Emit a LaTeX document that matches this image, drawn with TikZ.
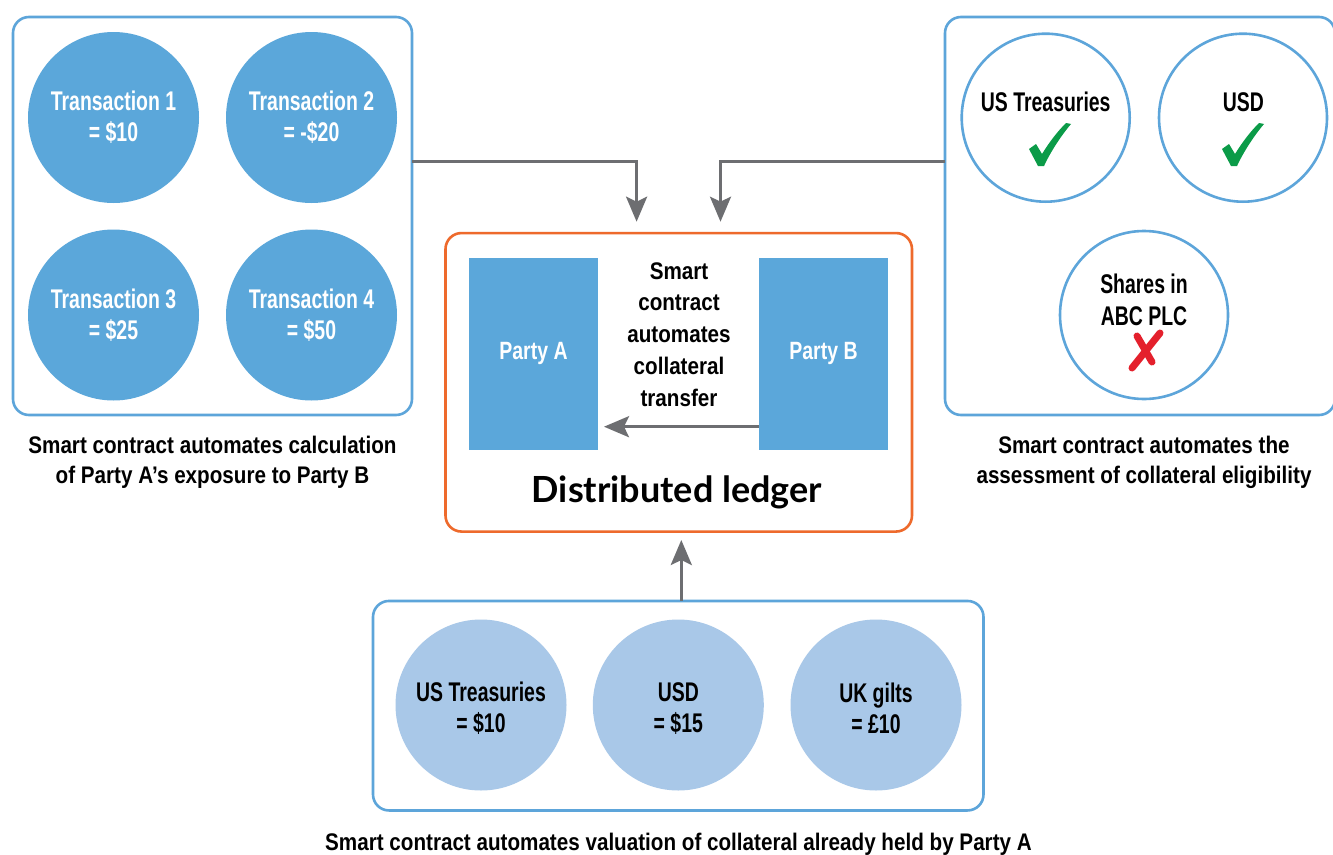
\documentclass[tikz,border=0pt]{standalone}
\usepackage{fontspec}
\usetikzlibrary{arrows.meta}
\newfontfamily\fcirc{Liberation Sans Bold}[FakeStretch=0.72]
\newfontfamily\fcap{Liberation Sans Bold}[FakeStretch=0.86]
\newfontfamily\fparty{Liberation Sans Bold}[FakeStretch=0.78]
\newfontfamily\fled{Lato}
\definecolor{dblue}{HTML}{5BA7DA}
\definecolor{lblue}{HTML}{A9C8E8}
\definecolor{bord}{HTML}{5DA5DA}
\definecolor{orng}{HTML}{EE6A2C}
\definecolor{agrey}{HTML}{6D6E71}
\definecolor{cgreen}{HTML}{0B9B48}
\definecolor{xred}{HTML}{E4202C}
\begin{document}
\begin{tikzpicture}[x=1pt,y=-1pt,
  panel/.style={draw=bord, line width=2.6pt, rounded corners=16pt, fill=white, inner sep=0pt, outer sep=0pt},
  tcirc/.style={circle, fill=dblue, minimum size=171pt, inner sep=0pt, text=white, align=center,
                font=\fcirc\fontsize{27}{31}\selectfont},
  ecirc/.style={circle, draw=bord, line width=2.6pt, fill=white, minimum size=168pt, inner sep=0pt},
  lcirc/.style={circle, fill=lblue, minimum size=171pt, inner sep=0pt},
  ctxt/.style={inner sep=0pt, align=center, text=black, font=\fcirc\fontsize{27}{31}\selectfont},
  captxt/.style={inner sep=0pt, anchor=base, text=black, font=\fcap\fontsize{24}{30}\selectfont},
  party/.style={rectangle, fill=dblue, minimum width=129pt, minimum height=192pt, inner sep=0pt,
                text=white, font=\fparty\fontsize{25}{30}\selectfont},
  arr/.style={draw=agrey, line width=3pt, -{Stealth[length=25pt,width=21pt,inset=5pt]}},
  chk/.pic={\fill[cgreen] (-1,26) -- (6,21) -- (12,31) .. controls (20,18) and (28,8) .. (36,0)
             -- (41,1) .. controls (30,14) and (20,30) .. (14,43) -- (8,43) -- cycle;}
]
\useasboundingbox (0,0) rectangle (1333,854);
\fill[white] (0,0) rectangle (1333,854);

% panels
\node[panel, minimum width=399pt, minimum height=398pt] (lbox) at (212.5,216) {};
\node[panel, minimum width=390pt, minimum height=398pt] (rbox) at (1140,216) {};
\node[panel, draw=orng, minimum width=466.5pt, minimum height=298.5pt] (obox) at (678.75,382.3) {};
\node[panel, minimum width=610.5pt, minimum height=209.5pt] (botbox) at (678.25,705.7) {};

% left: transactions
\node[tcirc] (t1) at (113.5,117.5) {Transaction 1\\= \$10};
\node[tcirc] (t2) at (311.5,117.5) {Transaction 2\\= -\$20};
\node[tcirc] (t3) at (113.5,315) {Transaction 3\\= \$25};
\node[tcirc] (t4) at (311.5,315) {Transaction 4\\= \$50};

% right: eligibility
\node[ecirc] (e1) at (1045.7,117.7) {};
\node[ecirc] (e2) at (1243,117.7) {};
\node[ecirc] (e3) at (1144,315) {};
\node[ctxt, anchor=base] (e1t) at (1045.7,111.7) {US Treasuries};
\node[ctxt, anchor=base] (e2t) at (1243.3,111.7) {USD};
\node[ctxt, anchor=base] (e3t) at (1144,293) {Shares in};
\node[ctxt, anchor=base] (e3u) at (1144,325) {ABC PLC};
\pic at (1030,123) {chk};
\pic at (1223,123) {chk};
\draw[xred, line width=7pt, line cap=round] (1137,336) -- (1152,362);
\draw[xred, line width=7pt, line cap=round] (1160,333) -- (1132,368);

% bottom: collateral held
\node[lcirc] (b1) at (481,705) {};
\node[lcirc] (b2) at (678.3,705) {};
\node[lcirc] (b3) at (876,705) {};
\node[ctxt] (b1t) at ([yshift=-3.5pt]b1.center) {US Treasuries\\= \$10};
\node[ctxt] (b2t) at ([yshift=-3.5pt]b2.center) {USD\\= \$15};
\node[ctxt] (b3t) at ([yshift=-3.5pt]b3.center) {UK gilts\\= £10};

% centre: distributed ledger
\node[party] (pA) at (533.5,353.5) {Party A};
\node[party] (pB) at (823.5,353.5) {Party B};
\node[inner sep=0pt, align=center, font=\fcap\fontsize{24}{31.85}\selectfont] (ct) at (679,334.5)
  {Smart\\contract\\automates\\collateral\\transfer};
\node[inner sep=0pt, anchor=base, font=\fled\bfseries\fontsize{36}{40}\selectfont] (led) at (677,502.7) {Distributed ledger};

% captions
\node[captxt] (lc1) at (212.5,453.3) {Smart contract automates calculation};
\node[captxt] (lc2) at (212.5,483.3) {of Party A’s exposure to Party B};
\node[captxt] (rc1) at (1144,453.3) {Smart contract automates the};
\node[captxt] (rc2) at (1144,483.3) {assessment of collateral eligibility};
\node[captxt] (bc1) at (678.5,850) {Smart contract automates valuation of collateral already held by Party A};

% connectors
\coordinate (jl) at (636.6,161.3);
\coordinate (inA) at (636.6,221.7);
\coordinate (jr) at (720.5,161.3);
\coordinate (inB) at (720.5,221.7);
\coordinate (inC) at (681.3,540);
\coordinate (hA) at (604,426.7);
\draw[arr] (lbox.east |- jl) -- (jl) -- (inA);
\draw[arr] (rbox.west |- jr) -- (jr) -- (inB);
\draw[arr] (botbox.north -| inC) -- (inC);
\draw[arr] (pB.west |- hA) -- (hA);
\end{tikzpicture}
\end{document}
